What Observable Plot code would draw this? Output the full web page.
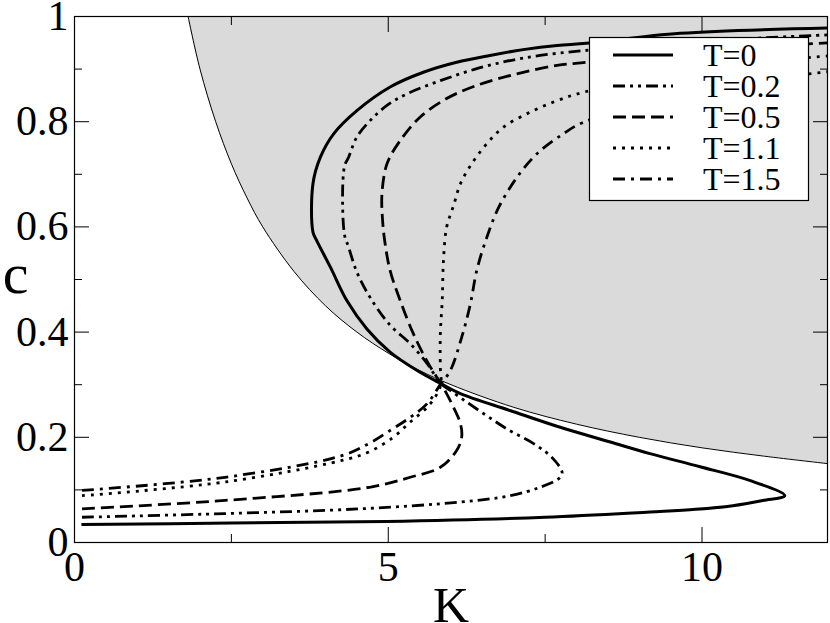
<!DOCTYPE html>
<html><head><meta charset="utf-8">
<script src="https://cdn.jsdelivr.net/npm/d3@7"></script>
<script src="https://cdn.jsdelivr.net/npm/@observablehq/plot@0.6"></script>
<style>
html,body{margin:0;padding:0;background:#fff;}
#wrap{position:relative;width:830px;height:623px;}
#wrap svg.legend{position:absolute;left:0;top:0;pointer-events:none;}
</style></head><body><div id="wrap"></div>
<script>
// ---- data ----
const seriesNames = ["T=0", "T=0.2", "T=0.5", "T=1.1", "T=1.5"];

const kT0 = [0.11, 2.5, 4.97, 7.5, 9.17, 9.90, 10.49, 10.97, 11.32, 10.76, 9.97, 9.17, 8.54, 7.74, 6.94, 6.15, 5.84, 5.46, 5.03, 4.66, 4.34, 4.08, 3.86, 3.80, 3.80, 3.92, 4.13, 4.50, 5.03, 5.56, 6.09, 6.62, 7.15, 7.69, 8.16, 9.65, 12.0];
const cT0 = [0.034, 0.037, 0.040, 0.048, 0.058, 0.063, 0.070, 0.080, 0.089, 0.118, 0.144, 0.169, 0.191, 0.219, 0.251, 0.283, 0.302, 0.327, 0.362, 0.406, 0.460, 0.523, 0.574, 0.590, 0.682, 0.733, 0.777, 0.821, 0.866, 0.894, 0.913, 0.926, 0.937, 0.945, 0.949, 0.968, 0.978];

const kT02 = [0.12, 2.40, 4.55, 6.15, 6.94, 7.42, 7.74, 7.77, 7.63, 7.37, 6.89, 6.57, 6.25, 5.99, 5.84, 5.62, 5.35, 5.03, 4.71, 4.50, 4.37, 4.30, 4.30, 4.37, 4.50, 4.71, 4.98, 5.30, 5.83, 6.36, 6.89, 7.42, 8.11, 9.5, 12.0];
const cT02 = [0.048, 0.055, 0.064, 0.077, 0.089, 0.105, 0.124, 0.134, 0.159, 0.184, 0.216, 0.241, 0.267, 0.289, 0.302, 0.340, 0.378, 0.413, 0.466, 0.514, 0.561, 0.587, 0.714, 0.733, 0.771, 0.802, 0.831, 0.853, 0.878, 0.899, 0.915, 0.926, 0.935, 0.950, 0.965];

const kT05 = [0.12, 2.40, 4.70, 5.35, 5.83, 6.09, 6.17, 6.15, 6.04, 5.93, 5.84, 5.64, 5.40, 5.19, 5.03, 4.95, 4.91, 4.90, 4.98, 5.19, 5.51, 5.93, 6.41, 7.05, 7.69, 8.16, 10.0, 12.0];
const cT05 = [0.064, 0.080, 0.105, 0.124, 0.143, 0.175, 0.200, 0.226, 0.257, 0.283, 0.302, 0.340, 0.397, 0.460, 0.517, 0.568, 0.612, 0.663, 0.720, 0.764, 0.809, 0.844, 0.869, 0.891, 0.907, 0.913, 0.935, 0.950];

const kT11 = [0.12, 2.40, 4.26, 4.69, 5.08, 5.35, 5.62, 5.78, 5.84, 5.83, 5.83, 5.86, 5.88, 5.93, 6.04, 6.15, 6.33, 6.57, 6.84, 7.26, 7.69, 8.11, 10.0, 12.0];
const cT11 = [0.089, 0.115, 0.156, 0.172, 0.200, 0.229, 0.257, 0.283, 0.302, 0.333, 0.397, 0.460, 0.536, 0.599, 0.640, 0.682, 0.720, 0.758, 0.790, 0.818, 0.840, 0.856, 0.900, 0.925];

const kT15 = [0.12, 2.40, 4.26, 4.69, 5.03, 5.35, 5.62, 5.84, 5.99, 6.17, 6.31, 6.41, 6.57, 6.76, 7.05, 7.37, 7.79, 8.11, 10.0, 12.0];
const cT15 = [0.099, 0.124, 0.165, 0.188, 0.213, 0.238, 0.264, 0.302, 0.327, 0.390, 0.454, 0.517, 0.580, 0.637, 0.694, 0.739, 0.777, 0.799, 0.860, 0.895];

// boundary of the shaded region
const kBound = [1.81, 2.0, 2.25, 2.5, 2.75, 3.0, 3.5, 4.0, 4.5, 5.0, 5.5, 6.0, 7.0, 8.0, 9.0, 10.0, 11.0, 12.0];
const cBound = [1.0, 0.90, 0.80, 0.72, 0.655, 0.60, 0.515, 0.45, 0.40, 0.36, 0.327, 0.30, 0.257, 0.225, 0.20, 0.18, 0.164, 0.150];

// ticks
const xMajor = [0, 5, 10];
const xMajorLabels = ["0", "5", "10"];
const xMinor = [2.5, 7.5];
const yMajor = [0, 0.2, 0.4, 0.6, 0.8, 1];
const yMajorLabels = ["0", "0.2", "0.4", "0.6", "0.8", "1"];
const yMinor = [0.1, 0.3, 0.5, 0.7, 0.9];
const axisLabels = {x: "K", y: "c"};

// ---- styles ----
const dashes = ["none", "12,5,3,5,3,5", "13,6", "3,6", "12,6,3,6"];
const widths = [3, 2.8, 2.8, 2.8, 2.8];
const serif = "Liberation Serif, Times New Roman, Times, serif";

const seriesK = [kT0, kT02, kT05, kT11, kT15];
const seriesC = [cT0, cT02, cT05, cT11, cT15];
const curves = seriesNames.map((name, s) =>
  seriesK[s].map((k, i) => ({T: name, K: k, c: seriesC[s][i]})));
const boundary = kBound.map((k, i) => ({K: k, c: cBound[i]}));

const fmtX = d => xMajorLabels[xMajor.indexOf(d)];
const fmtY = d => yMajorLabels[yMajor.findIndex(v => Math.abs(v - d) < 1e-9)];

const plot = Plot.plot({
  width: 830, height: 623,
  marginLeft: 74, marginRight: 3, marginTop: 16, marginBottom: 81,
  style: {fontFamily: serif, background: "white", color: "black", overflow: "visible"},
  x: {domain: [0, 12]},
  y: {domain: [0, 1]},
  marks: [
    Plot.areaY(boundary, {x: "K", y1: "c", y2: 1, fill: "#dadada", curve: "catmull-rom"}),
    Plot.line(boundary, {x: "K", y: "c", stroke: "black", strokeWidth: 1, curve: "catmull-rom"}),
    ...curves.map((rows, s) => Plot.line(rows, {
      x: "K", y: "c", stroke: "black", strokeWidth: widths[s],
      strokeDasharray: dashes[s], curve: "catmull-rom", strokeLinecap: "butt"
    })),
    Plot.frame({stroke: "black", strokeWidth: 1.2}),
    Plot.axisX(xMajor, {anchor: "bottom", tickSize: -15, tickPadding: 24, fontSize: 42, tickFormat: fmtX, label: null}),
    Plot.axisX(xMinor, {anchor: "bottom", tickSize: -8, tickFormat: () => "", label: null}),
    Plot.axisX(xMajor, {anchor: "top", tickSize: -15, tickFormat: () => "", label: null}),
    Plot.axisX(xMinor, {anchor: "top", tickSize: -8, tickFormat: () => "", label: null}),
    Plot.axisY(yMajor, {anchor: "left", tickSize: -15, tickPadding: 21, fontSize: 42, tickFormat: fmtY, label: null}),
    Plot.axisY(yMinor, {anchor: "left", tickSize: -8, tickFormat: () => "", label: null}),
    Plot.axisY(yMajor, {anchor: "right", tickSize: -15, tickFormat: () => "", label: null}),
    Plot.axisY(yMinor, {anchor: "right", tickSize: -8, tickFormat: () => "", label: null}),
    Plot.text([axisLabels.x], {text: d => d, frameAnchor: "bottom", dy: 79, lineAnchor: "bottom", textAnchor: "middle", fontSize: 50}),
    Plot.text([axisLabels.y], {text: d => d, frameAnchor: "left", dx: -59, dy: -5, lineAnchor: "middle", textAnchor: "middle", fontSize: 58})
  ]
});

const wrap = document.getElementById("wrap");
wrap.appendChild(plot);

// ---- legend (inset box) ----
const lg = d3.select(wrap).append("svg").attr("class", "legend")
  .attr("width", 830).attr("height", 623);
lg.append("rect").attr("x", 589.5).attr("y", 37.5).attr("width", 219).attr("height", 163)
  .attr("fill", "white").attr("stroke", "black").attr("stroke-width", 1.2);
seriesNames.forEach((name, i) => {
  const y = 55 + i * 31;
  lg.append("line").attr("x1", 613).attr("x2", 673).attr("y1", y).attr("y2", y)
    .attr("stroke", "black").attr("stroke-width", widths[i])
    .attr("stroke-dasharray", dashes[i]);
  lg.append("text").attr("x", 703).attr("y", y + 11).text(name)
    .attr("font-family", serif).attr("font-size", 32).attr("fill", "black");
});
</script></body></html>
